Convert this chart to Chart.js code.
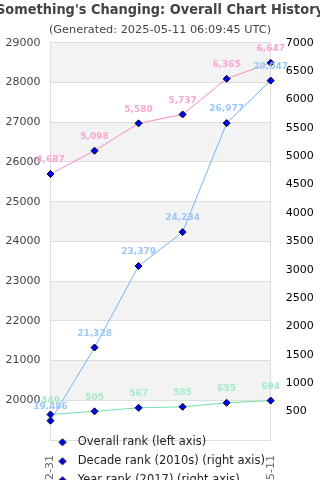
<!DOCTYPE html>
<html>
<head>
<meta charset="utf-8">
<script src="https://cdn.jsdelivr.net/npm/chart.js@4"></script>
<style>
html,body{margin:0;padding:0;overflow:hidden;background:#fff;}
#wrap{width:320px;height:507px;position:relative;}
</style>
</head>
<body>
<div id="wrap"><canvas id="c"></canvas></div>
<script>
const dates = ['2017-12-31','2018-12-31','2019-12-31','2020-12-31','2021-12-31','2025-05-11'];
const overallRank = [19486, 21328, 23379, 24234, 26977, 28047];
const decadeRank = [4687, 5098, 5580, 5737, 6365, 6647];
const yearRank = [449, 505, 567, 585, 655, 694];
const leftTicks = {min: 19000, max: 29000, step: 1000};
const rightTicks = {min: 0, max: 7000, step: 500};

const seriesNames = ['Overall rank (left axis)', 'Decade rank (2010s) (right axis)', 'Year rank (2017) (right axis)'];
const lineColors = ['#74b3f7', '#f48cc2', '#6fe0a6'];
const labelColors = ['#9cc8f6', '#f8a8d0', '#a6eac6'];

Chart.defaults.font.family = '"DejaVu Sans", sans-serif';

function legendIcon(color){
  const cv = document.createElement('canvas');
  cv.width = 14; cv.height = 9;
  const g = cv.getContext('2d');
  g.strokeStyle = color; g.lineWidth = 1;
  g.beginPath(); g.moveTo(0, 4.5); g.lineTo(9, 4.5); g.stroke();
  g.fillStyle = '#0000ff'; g.strokeStyle = '#000';
  g.beginPath(); g.moveTo(4.5, 1); g.lineTo(8, 4.5); g.lineTo(4.5, 8); g.lineTo(1, 4.5); g.closePath();
  g.fill(); g.stroke();
  return cv;
}
const icons = lineColors.map(legendIcon);

const bandPlugin = {
  id: 'bands',
  afterLayout(chart){
    const t = chart.titleBlock;
    if (t){ t.left -= 4; t.right += 4; t.width = t.right - t.left; }
  },
  beforeDraw(chart){
    const ctx = chart.ctx, area = chart.chartArea, y = chart.scales.y;
    ctx.save();
    ctx.fillStyle = '#f3f3f3';
    for (let v = leftTicks.min; v < leftTicks.max; v += leftTicks.step){
      if (((v / leftTicks.step) % 2) === 0){
        const top = y.getPixelForValue(v + leftTicks.step);
        const bot = y.getPixelForValue(v);
        ctx.fillRect(area.left, top, area.right - area.left, bot - top);
      }
    }
    ctx.restore();
  }
};

const valueLabels = {
  id: 'valueLabels',
  afterDatasetsDraw(chart){
    const ctx = chart.ctx;
    ctx.save();
    ctx.font = 'bold 9px "DejaVu Sans", sans-serif';
    ctx.textAlign = 'center';
    ctx.textBaseline = 'middle';
    chart.data.datasets.forEach((ds, i) => {
      const meta = chart.getDatasetMeta(i);
      ctx.fillStyle = labelColors[i];
      meta.data.forEach((pt, j) => {
        ctx.fillText(ds.data[j].toLocaleString('en-US'), pt.x, pt.y - 14);
      });
    });
    ctx.restore();
  }
};

const pointOpts = {
  pointStyle: 'rectRot', pointRadius: 3.5, pointHoverRadius: 3.5,
  pointBackgroundColor: '#0000ff', pointBorderColor: '#000', pointBorderWidth: 1,
  borderWidth: 1, tension: 0, fill: false, clip: false
};

new Chart(document.getElementById('c'), {
  type: 'line',
  data: {
    labels: dates,
    datasets: [
      Object.assign({label: seriesNames[0], data: overallRank, borderColor: lineColors[0], backgroundColor: lineColors[0], yAxisID: 'y'}, pointOpts),
      Object.assign({label: seriesNames[1], data: decadeRank, borderColor: lineColors[1], backgroundColor: lineColors[1], yAxisID: 'y1'}, pointOpts),
      Object.assign({label: seriesNames[2], data: yearRank, borderColor: lineColors[2], backgroundColor: lineColors[2], yAxisID: 'y1'}, pointOpts)
    ]
  },
  options: {
    responsive: true,
    maintainAspectRatio: false,
    animation: false,
    events: [],
    layout: {padding: 0},
    scales: {
      x: {
        offset: false,
        grid: {display: false},
        border: {display: false},
        ticks: {
          autoSkip: false, minRotation: 90, maxRotation: 90, color: '#666',
          font: {size: 11}, padding: 7,
          callback: function(v, i){ return (i === 0 || i === dates.length - 1) ? dates[i] : ''; }
        },
        afterFit: function(s){ s.height = -11; s._computeLabelArea = function(){ return undefined; }; }
      },
      y: {
        position: 'left',
        min: leftTicks.min, max: leftTicks.max,
        grid: {color: '#dddddd', drawTicks: false},
        border: {display: true, color: '#dddddd'},
        ticks: {
          stepSize: leftTicks.step, padding: 10, color: '#444', font: {size: 11},
          callback: function(v){ return v === leftTicks.min ? '' : String(v); }
        },
        afterFit: function(s){ s.width = 50.5; }
      },
      y1: {
        position: 'right',
        min: rightTicks.min, max: rightTicks.max,
        grid: {display: false, drawTicks: false},
        border: {display: true, color: '#dddddd'},
        ticks: {
          stepSize: rightTicks.step, padding: 15, color: '#000', font: {size: 11},
          callback: function(v){ return v === rightTicks.min ? '' : String(v); }
        },
        afterFit: function(s){ s.width = 49.3; }
      }
    },
    plugins: {
      title: {
        display: true,
        text: "Something's Changing: Overall Chart History",
        color: '#444',
        font: {size: 14, weight: 'bold'},
        padding: {top: 1.6, bottom: 2}
      },
      subtitle: {
        display: true,
        text: '(Generated: 2025-05-11 06:09:45 UTC)',
        color: '#444',
        font: {size: 11.3},
        padding: {top: 2.6, bottom: 6.2}
      },
      legend: {
        position: 'bottom',
        align: 'start',
        fullSize: false,
        labels: {
          color: '#222',
          font: {size: 11.5},
          padding: 7.5,
          usePointStyle: true,
          pointStyleWidth: 14,
          generateLabels: function(chart){
            const items = Chart.defaults.plugins.legend.labels.generateLabels(chart);
            items.forEach((it, i) => { it.pointStyle = icons[i]; });
            return items;
          }
        }
      },
      tooltip: {enabled: false}
    }
  },
  plugins: [bandPlugin, valueLabels]
});
</script>
</body>
</html>
